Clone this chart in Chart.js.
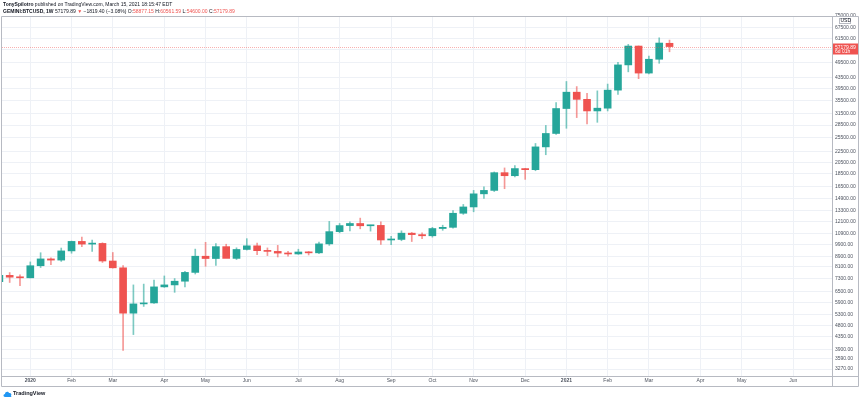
<!DOCTYPE html>
<html><head><meta charset="utf-8">
<script src="https://cdn.jsdelivr.net/npm/chart.js@4.4.1/dist/chart.umd.min.js"></script>
<style>
html,body{margin:0;padding:0;background:#fff;}
#wrap{position:relative;width:860px;height:399px;overflow:hidden;font-family:"Liberation Sans",Arial,sans-serif;}
#c{position:absolute;left:0;top:0;}
.hdr{position:absolute;left:3px;font-size:5px;line-height:6px;white-space:nowrap;color:#131722;}
.r{color:#ef5350;}
#foot{position:absolute;left:3px;top:390px;font-size:5.5px;line-height:6px;font-weight:bold;color:#131722;white-space:nowrap;}
#foot svg{vertical-align:middle;margin-right:1px;}
</style></head>
<body><div id="wrap"><canvas id="c" width="860" height="399"></canvas>
<div class="hdr" style="top:1px"><b>TonySpilotro</b> published on TradingView.com, March 15, 2021 18:15:47 EDT</div>
<div class="hdr" style="top:8px"><b>GEMINI:BTCUSD, 1W</b> 57179.89 <span class="r">▼</span> −1819.40 (−3.08%) O:<span class="r">58877.15</span> H:<span class="r">60561.59</span> L:<span class="r">54600.00</span> C:<span class="r">57179.89</span></div>
<div id="foot"><svg width="9" height="6" viewBox="0 0 18 12"><path d="M4 12 C0 12 0 6 4 6 C4 1 11 0 12 4 C16 3 18 7 16 9 C18 12 16 12 14 12 Z" fill="#2196f3"/></svg>TradingView</div>
</div>
<script>
const weeks = ['2019-12-16','2019-12-23','2019-12-30','2020-01-06','2020-01-13','2020-01-20','2020-01-27','2020-02-03','2020-02-10','2020-02-17','2020-02-24','2020-03-02','2020-03-09','2020-03-16','2020-03-23','2020-03-30','2020-04-06','2020-04-13','2020-04-20','2020-04-27','2020-05-04','2020-05-11','2020-05-18','2020-05-25','2020-06-01','2020-06-08','2020-06-15','2020-06-22','2020-06-29','2020-07-06','2020-07-13','2020-07-20','2020-07-27','2020-08-03','2020-08-10','2020-08-17','2020-08-24','2020-08-31','2020-09-07','2020-09-14','2020-09-21','2020-09-28','2020-10-05','2020-10-12','2020-10-19','2020-10-26','2020-11-02','2020-11-09','2020-11-16','2020-11-23','2020-11-30','2020-12-07','2020-12-14','2020-12-21','2020-12-28','2021-01-04','2021-01-11','2021-01-18','2021-01-25','2021-02-01','2021-02-08','2021-02-15','2021-02-22','2021-03-01','2021-03-08','2021-03-15'];
const open  = [7100,7510,7390,7350,8180,8690,8600,9330,10150,9910,9970,8530,8030,5370,5830,5880,6780,6900,7130,7710,8900,8720,9690,8730,9450,9760,9350,9290,9150,9080,9240,9170,9930,11070,11680,11900,11660,11700,10280,10330,10920,10780,10670,11380,11500,13030,13780,15480,15960,18680,18180,19370,19180,23480,26450,33000,38150,35800,32300,33100,38850,48600,57450,45200,51100,58877.15];
const high  = [7520,7700,7540,8460,9180,8780,9570,10180,10540,10270,10030,9200,8200,6900,6950,7200,7470,7300,7780,9480,10070,9950,9900,9590,10400,10000,9580,9800,9300,9470,9280,10100,12120,11900,12080,12480,11720,12080,10620,11150,10990,10950,11500,11720,13350,14090,15960,16480,18800,19480,19900,19420,24200,28400,34800,41950,40100,37800,38600,41000,49700,58300,57500,52600,61800,60561.59];
const low   = [6440,7050,6860,7340,8050,8260,8500,9140,9680,9290,8420,8010,3860,4440,5700,5860,6750,6460,6780,7600,8140,8200,8820,8640,9400,9030,8950,8840,8900,9050,9000,9100,9800,10950,11130,11350,11120,9890,9850,10210,10140,10400,10540,11200,11410,12900,13200,14850,15800,16200,18000,17600,19000,21900,26200,27700,30450,28800,29200,32300,37400,45700,43000,44900,49300,54600.00];
const close = [7510,7390,7350,8180,8690,8600,9330,10150,9910,9970,8530,8030,5370,5830,5880,6780,6900,7130,7710,8900,8720,9690,8730,9450,9760,9350,9290,9150,9080,9240,9170,9930,11070,11680,11900,11660,11700,10280,10330,10920,10780,10670,11380,11500,13030,13780,15480,15960,18680,18180,19370,19180,23480,26450,33000,38150,35800,32300,33100,38850,48600,57450,45200,51100,58999.29,57179.89];
const monthTickIdx = [3,7,11,16,20,24,29,33,38,42,46,51,55,59,63,68,72,77];
const monthTickLabels = ['2020','Feb','Mar','Apr','May','Jun','Jul','Aug','Sep','Oct','Nov','Dec','2021','Feb','Mar','Apr','May','Jun'];
const priceTicks = [3270,3590,3900,4350,4800,5300,5900,6500,7300,8100,8900,9900,10900,12100,13300,14900,16500,18500,20500,22500,25500,28500,31500,35500,39500,43500,49500,55500,61500,67500,75000];
const lastPrice = 57179.89;
const countdown = '6d 01h';

const UP = '#26a69a', DOWN = '#ef5350';
const colors = close.map((c,i) => c >= open[i] ? UP : DOWN);
const wickColors = close.map((c,i) => c >= open[i] ? 'rgba(38,166,154,0.6)' : 'rgba(239,83,80,0.6)');

const frame = {
  id: 'frame',
  afterDraw(chart) {
    const ctx = chart.ctx, a = chart.chartArea;
    const y = chart.scales.y;
    const yp = Math.round(y.getPixelForValue(lastPrice)) + 0.5;
    ctx.save();
    ctx.strokeStyle = 'rgba(239,83,80,0.45)';
    ctx.setLineDash([1,1]);
    ctx.lineWidth = 1;
    ctx.beginPath(); ctx.moveTo(a.left, yp); ctx.lineTo(a.right, yp); ctx.stroke();
    ctx.setLineDash([]);
    ctx.strokeStyle = '#b7bac2';
    ctx.beginPath();
    ctx.rect(1.5, a.top + 0.5, 857, 386 - a.top);
    ctx.moveTo(a.right + 0.5, a.top); ctx.lineTo(a.right + 0.5, 386);
    ctx.moveTo(1, a.bottom + 0.5); ctx.lineTo(858, a.bottom + 0.5);
    ctx.stroke();
    ctx.fillStyle = DOWN;
    ctx.fillRect(a.right + 1, yp - 4, 25, 11);
    ctx.fillStyle = '#fff';
    ctx.font = '5px "Liberation Sans", Arial';
    ctx.textBaseline = 'middle';
    ctx.textAlign = 'left';
    ctx.fillText(lastPrice.toFixed(2), a.right + 3, yp);
    ctx.fillText(countdown, a.right + 3, yp + 4.5);
    ctx.fillStyle = '#fff';
    ctx.fillRect(a.right + 7, a.top + 2, 12, 6);
    ctx.strokeStyle = '#b7bac2';
    ctx.strokeRect(a.right + 7.5, a.top + 2.5, 11, 5);
    ctx.fillStyle = '#131722';
    ctx.fillText('USD', a.right + 8.5, a.top + 5);
    ctx.restore();
  }
};

new Chart(document.getElementById('c'), {
  type: 'bar',
  data: {
    datasets: [
      {
        label: 'Body',
        data: weeks.map((w,i) => ({x: i, y: [open[i], close[i]]})),
        backgroundColor: colors,
        barThickness: 7,
        minBarLength: 1,
        grouped: false,
        order: 0,
        borderWidth: 0
      },
      {
        label: 'Wick',
        data: weeks.map((w,i) => ({x: i, y: [low[i], high[i]]})),
        backgroundColor: wickColors,
        barThickness: 1,
        grouped: false,
        order: 1,
        borderWidth: 0
      }
    ]
  },
  options: {
    responsive: false,
    animation: false,
    devicePixelRatio: 1,
    layout: { padding: { left: 2, top: 16, right: 2, bottom: 13 } },
    plugins: { legend: { display: false }, tooltip: { enabled: false } },
    scales: {
      x: {
        type: 'linear',
        offset: false,
        min: 0.255,
        max: 80.76,
        afterBuildTicks: s => { s.ticks = monthTickIdx.map(v => ({value: v})); },
        afterFit: s => { s.height = 10; },
        grid: { color: '#eef1f6', drawTicks: false, offset: false },
        border: { display: false },
        ticks: {
          autoSkip: false, maxRotation: 0, padding: 2, color: '#4c525e',
          font: c => ({ size: 5, family: '"Liberation Sans", Arial', weight: (c.tick && /^20/.test(String(c.tick.label))) ? 'bold' : 'normal' }),
          callback: v => { const k = monthTickIdx.indexOf(v); return k >= 0 ? monthTickLabels[k] : ''; }
        }
      },
      y: {
        type: 'logarithmic',
        position: 'right',
        min: 3075,
        max: 75000,
        afterBuildTicks: s => { s.ticks = priceTicks.map(v => ({value: v})); },
        afterFit: s => { s.width = 26; },
        grid: { color: '#eef1f6', drawTicks: false },
        border: { display: false },
        ticks: {
          autoSkip: false, padding: 3, color: '#4c525e',
          font: { size: 5, family: '"Liberation Sans", Arial' },
          callback: v => Number(v).toFixed(2)
        }
      }
    }
  },
  plugins: [frame]
});
</script>
</body></html>
